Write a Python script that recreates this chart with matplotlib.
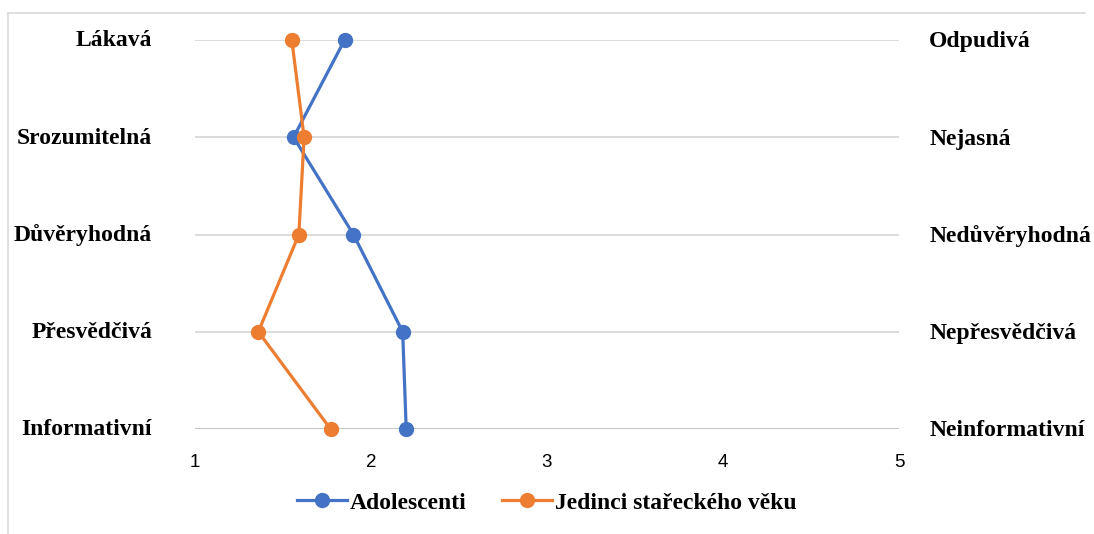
import matplotlib.pyplot as plt
from matplotlib.lines import Line2D

# semantic differential: left/right pole pairs, scale 1..5
left_labels = ['Lákavá', 'Srozumitelná', 'Důvěryhodná', 'Přesvědčivá', 'Informativní']
right_labels = ['Odpudivá', 'Nejasná', 'Nedůvěryhodná', 'Nepřesvědčivá', 'Neinformativní']
adolescenti = [1.85, 1.56, 1.90, 2.18, 2.20]
senioři = [1.55, 1.62, 1.59, 1.36, 1.77]
series_names = ['Adolescenti', 'Jedinci stařeckého věku']
x_ticks = [1, 2, 3, 4, 5]

blue = '#4472C4'
orange = '#ED7D31'
serif = {'family': 'Liberation Serif', 'weight': 'bold', 'size': 17}

fig = plt.figure(figsize=(10.94, 5.34), dpi=100)
ax = fig.add_axes([195/1094, 1-429/534, 704/1094, 389/534])

rows = list(range(len(left_labels)))[::-1]  # first label on top

for y in rows:
    ax.axhline(y, color='#BFBFBF' if y == 0 else '#D9D9D9', lw=1.3, zorder=1)

for vals, col, name in [(adolescenti, blue, series_names[0]), (senioři, orange, series_names[1])]:
    ax.plot(vals, rows, color=col, lw=2.3, marker='o', ms=10, zorder=3, label=name, clip_on=False)

ax.set_xlim(1, 5)
ax.set_ylim(0, 4)
ax.set_xticks(x_ticks)
ax.set_xticklabels([str(t) for t in x_ticks], fontfamily='Liberation Sans', fontsize=13.5)
ax.tick_params(axis='x', length=0, pad=18)
ax.set_yticks([])
for s in ax.spines.values():
    s.set_visible(False)

# pole labels on both sides
for y, lab in zip(rows, left_labels):
    ax.text(-0.061, y - 0.01, lab, transform=ax.get_yaxis_transform(), ha='right', va='center', fontdict=serif)
for y, lab in zip(rows, right_labels):
    ax.text(1.043, y - 0.02, lab, transform=ax.get_yaxis_transform(), ha='left', va='center', fontdict=serif)

leg = fig.legend(loc='center', bbox_to_anchor=(0.5, 1-503/534), ncol=2, frameon=False,
                 prop=serif, handlelength=2.1, handletextpad=0.15, columnspacing=1.5)

# chart area border (top and left edge)
fig.add_artist(Line2D([8/1094, 8/1094], [0, 1-13/534], color='#D9D9D9', lw=1.2))
fig.add_artist(Line2D([8/1094, 1085/1094], [1-13/534, 1-13/534], color='#D9D9D9', lw=1.2))

fig.savefig('out.png', dpi=100)
